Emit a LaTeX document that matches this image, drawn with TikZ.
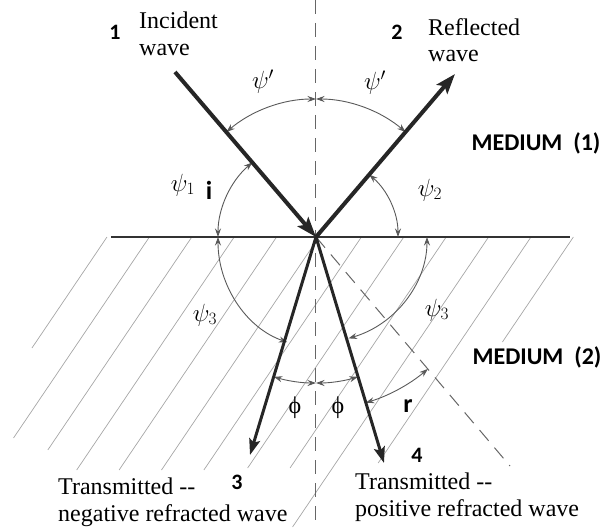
\documentclass[tikz,border=0pt]{standalone}
\usepackage{fontspec}
\setmainfont{Liberation Serif}
\newfontfamily\labelfont{Carlito}
\usetikzlibrary{arrows.meta,positioning}

\begin{document}
\begin{tikzpicture}[
  x=1pt, y=1pt,
  ray/.style={line width=4pt, draw=black!85,
    -{Stealth[length=20pt,width=14pt,inset=4pt]}},
  thinray/.style={line width=3pt, draw=black!85,
    -{Stealth[length=16pt,width=11pt,inset=3pt]}},
  anglearc/.style={draw=black!65, line width=0.9pt,
    {Stealth[length=8.5pt,width=6pt]}-{Stealth[length=8.5pt,width=6pt]}},
  hatch/.style={draw=black!35, line width=0.7pt},
  normal/.style={draw=black!60, line width=1pt, dash pattern=on 14pt off 9pt},
  txt/.style={font=\fontsize{24}{26.5}\selectfont, align=left, inner sep=0pt},
  num/.style={font=\labelfont\bfseries\fontsize{22}{24}\selectfont, inner sep=0pt},
  medium/.style={font=\labelfont\bfseries\fontsize{24}{26}\selectfont, inner sep=0pt},
  greek/.style={font=\fontsize{24}{26}\selectfont, inner sep=0pt}
]
\useasboundingbox (-316,-293) rectangle (292,237);

% medium (2) hatching
\foreach \k/\yb in {0/-111, 1/-201, 2/-213, 3/-233, 4/-233, 5/-233,
                    6/-233, 7/-231, 8/-231, 9/-290, 10/-226, 11/-105}
  \draw[hatch] (-209+42.4*\k, 0) -- ++(0.676*\yb, \yb);

\coordinate (O) at (0,0);
\coordinate (surfL) at (-205,0);
\coordinate (surfR) at (254,0);
\coordinate (ntop) at (0,237);
\coordinate (nbot) at (0,-290);
\coordinate (inc) at (-141,165);
\coordinate (refl) at (139,163);
\coordinate (neg) at (-66,-218);
\coordinate (pos) at (68,-226);
\coordinate (ext) at (194,-229);

\draw[line width=1.3pt, black!80] (surfL) -- (surfR);
\draw[normal] (ntop) -- (nbot);
\draw[normal] (O) -- (ext);

% angles
\draw[anglearc] (O) ++(90:138) arc[start angle=90, end angle=130.5, radius=138];
\draw[anglearc] (O) ++(90:138) arc[start angle=90, end angle=49.5, radius=138];
\draw[anglearc] (O) ++(130.5:98) arc[start angle=130.5, end angle=180, radius=98];
\draw[anglearc] (O) ++(49.5:82) arc[start angle=49.5, end angle=0, radius=82];
\draw[anglearc] (O) ++(-98,0) arc[start angle=180, end angle=253, x radius=98, y radius=110];
\draw[anglearc] (O) ++(111,0) arc[start angle=0, end angle=-73, x radius=111, y radius=106];
\draw[anglearc] (O) ++(253.2:146) arc[start angle=253.2, end angle=270, radius=146];
\draw[anglearc] (O) ++(270:146) arc[start angle=270, end angle=286.7, radius=146];
\draw[anglearc] (O) ++(286.7:173) arc[start angle=286.7, end angle=310.3, radius=173];

% waves
\draw[ray] (inc) -- (O);
\draw[ray] (O) -- (refl);
\draw[thinray] (O) -- (neg);
\draw[thinray] (O) -- (pos);

% labels
\node[txt, anchor=north west] (inctxt) at (-177,225) {Incident\\wave};
\node[num] (n1) at (-201,205) {1};
\node[txt, anchor=north west] (refltxt) at (112,219) {Reflected\\wave};
\node[num] (n2) at (81,205) {2};
\node[greek] (psiL) at (-53,155) {$\psi'$};
\node[greek] (psiR) at (59,154) {$\psi'$};
\node[medium] (med1) at (220,94) {MEDIUM\ \ (1)};
\node[greek] (psi1) at (-133,52) {$\psi_1$};
\node[num, font=\labelfont\bfseries\fontsize{26}{28}\selectfont] (i) at (-107,47) {i};
\node[greek] (psi2) at (114,47) {$\psi_2$};
\node[greek] (psi3L) at (-111,-78) {$\psi_3$};
\node[greek] (psi3R) at (121,-73) {$\psi_3$};
\node[medium] (med2) at (221,-120) {MEDIUM\ \ (2)};
\node[greek] (phiL) at (-21,-171) {ϕ};
\node[greek] (phiR) at (22,-171) {ϕ};
\node[num, font=\labelfont\bfseries\fontsize{26}{28}\selectfont] (r) at (92,-169) {r};
\node[num] (n3) at (-79,-245) {3};
\node[num] (n4) at (101,-218) {4};
\node[txt, anchor=north west] (negtxt) at (-258,-241) {Transmitted -{}-\\negative refracted wave};
\node[txt, anchor=north west] (postxt) at (39,-236) {Transmitted -{}-\\positive refracted wave};

\end{tikzpicture}
\end{document}
